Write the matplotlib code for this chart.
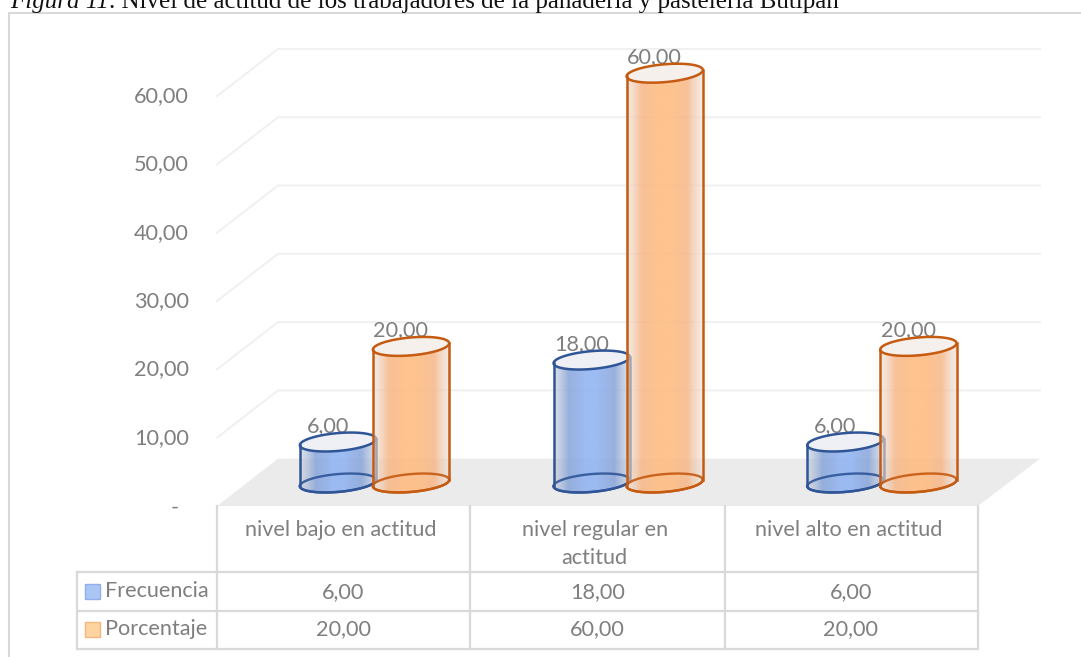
import numpy as np
import matplotlib
matplotlib.use("Agg")
import matplotlib.pyplot as plt
from matplotlib.patches import PathPatch, Polygon, Rectangle
from matplotlib.path import Path
from matplotlib.colors import to_rgb

categories = ["nivel bajo en actitud", "nivel regular en\nactitud", "nivel alto en actitud"]
frecuencia = [6.00, 18.00, 6.00]
porcentaje = [20.00, 60.00, 20.00]
y_ticks = [10, 20, 30, 40, 50, 60]

W, H = 1081, 657
PX_X = 253.7          # pixels per category
PX_Y = 6.83           # pixels per unit of value
X0_PX, Y0_PX = 343.5, 506.0   # pixel of category 0 / value 0 on the front plane

TEXT = "#7f7f7f"
LINE = "#d9d9d9"
GRID = "#f0f0f0"


def fmt(v):
    return f"{v:.2f}".replace(".", ",")


def dx(px):
    return px / PX_X


def dy(px):
    return px / PX_Y


def X(px):
    return (px - X0_PX) / PX_X


def Y(py):
    return (Y0_PX - py) / PX_Y


fig = plt.figure(figsize=(W / 100, H / 100), dpi=100)
ax = fig.add_axes([0, 0, 1, 1])
ax.set_xlim(X(0), X(W))
ax.set_ylim(Y(H), Y(0))
ax.axis("off")

font = "Lato"
fs = 15.6

# outer chart frame, open towards the right and bottom
ax.plot([X(9), X(9), X(W)], [Y(H), Y(13), Y(13)], color=LINE, lw=1.5, zorder=1,
        solid_joinstyle="miter")

# heading
head = ax.text(X(10), Y(8), "Figura 11", family="Liberation Serif", style="italic",
               fontsize=18, color="#111111", va="baseline", ha="left", zorder=6)
ax.annotate(". Nivel de actitud de los trabajadores de la panadería y pastelería Butipan",
            xy=(1, 0), xycoords=head, va="bottom", ha="left", family="Liberation Serif",
            fontsize=18, color="#111111", zorder=6, annotation_clip=False)

# back wall gridlines with their skew to the floor
DEPTH_X, DEPTH_Y = 61, 47.3
for v in y_ticks:
    ax.plot([X(217), X(217 + DEPTH_X), X(1040)],
            [v, v + dy(DEPTH_Y), v + dy(DEPTH_Y)], color=GRID, lw=1.4, zorder=1,
            solid_joinstyle="miter")
    ax.text(X(189), v, fmt(v), color=TEXT, fontsize=fs, family=font, ha="right",
            va="center", zorder=2)
ax.text(X(175), Y(508), "-", color=TEXT, fontsize=fs, family=font, ha="center", va="center")

# floor
ax.add_patch(Polygon([(X(217), 0), (X(278), dy(DEPTH_Y)), (X(1040), dy(DEPTH_Y)), (X(978), 0)],
                     closed=True, fc="#ebebeb", ec="none", zorder=1.5))

# data table below the floor
for xp in (217, 470, 724.6, 978):
    ax.plot([X(xp), X(xp)], [Y(506), Y(649)], color=LINE, lw=1.6, zorder=2)
ax.plot([X(76.5), X(76.5)], [Y(572), Y(649)], color=LINE, lw=1.6, zorder=2)
for yp in (572, 611, 649):
    ax.plot([X(76.5), X(978)], [Y(yp), Y(yp)], color=LINE, lw=1.6, zorder=2)

NAME_SHIFT = dx(-2.5)
for i, name in enumerate(categories):
    lines = name.split("\n")
    ax.text(i + NAME_SHIFT, Y(530), lines[0], color=TEXT, fontsize=fs, family=font, ha="center", va="center")
    if len(lines) > 1:
        ax.text(i + NAME_SHIFT, Y(558), lines[1], color=TEXT, fontsize=fs, family=font, ha="center", va="center")
    ax.text(i, Y(592), fmt(frecuencia[i]), color=TEXT, fontsize=fs, family=font, ha="center", va="center")
    ax.text(i, Y(629.5), fmt(porcentaje[i]), color=TEXT, fontsize=fs, family=font, ha="center", va="center")

for yp, label, fc, ec in [(591.5, "Frecuencia", "#a9c6f5", "#8fb0ea"), (629.5, "Porcentaje", "#fdd3a0", "#f7b57f")]:
    ax.add_patch(Rectangle((X(85), Y(yp + 7.5)), dx(15), dy(15), fc=fc, ec=ec, lw=1, zorder=3))
    ax.text(X(105), Y(yp - 0.5), label, color=TEXT, fontsize=fs, family=font, ha="left", va="center")

# cylinders
A, B = 38.3, 8.9
TILT = np.radians(5)
BASE = dy(23)         # floor offset of the cylinder base above the front edge
t0 = np.arctan2(-B * np.sin(TILT), A * np.cos(TILT))


def ellipse(cx, cy, t):
    ex = A * np.cos(t) * np.cos(TILT) - B * np.sin(t) * np.sin(TILT)
    ey = A * np.cos(t) * np.sin(TILT) + B * np.sin(t) * np.cos(TILT)
    return np.column_stack([cx + dx(ex), cy + dy(ey)])


def gradient(edge, shade, mid):
    """Horizontal shading across a cylinder: pale rim, a darker band, bright centre."""
    stops = np.array([0.0, 0.2, 0.42, 0.58, 0.8, 1.0])
    cols = np.array([to_rgb(c) for c in (edge, shade, mid, mid, shade, edge)])
    alphas = np.array([0.55, 0.85, 0.92, 0.92, 0.85, 0.55])
    u = np.linspace(0, 1, 256)
    rgb = np.column_stack([np.interp(u, stops, cols[:, k]) for k in range(3)])
    alpha = np.interp(u, stops, alphas)
    return np.dstack([rgb[None, :, :], alpha[None, :, None]])


def cylinder(cx, value, edge, grad, cap, z):
    cb = BASE
    ct = BASE + value
    tt = np.linspace(t0, t0 + np.pi, 60)
    top_far = ellipse(cx, ct, tt)
    bot_near = ellipse(cx, cb, tt + np.pi)
    body = np.vstack([top_far, bot_near, top_far[:1]])
    clip = PathPatch(Path(body), fc="none", ec="none", transform=ax.transData)
    ax.add_patch(clip)
    im = ax.imshow(grad, extent=(cx - dx(A), cx + dx(A), cb - dy(14), ct + dy(14)),
                   aspect="auto", interpolation="bilinear", zorder=z)
    im.set_clip_path(clip)
    all_t = np.linspace(0, 2 * np.pi, 121)
    bottom = ellipse(cx, cb, all_t)
    ax.plot(bottom[:, 0], bottom[:, 1], color=edge, lw=1.7, zorder=z + 0.1, alpha=0.9)
    top = ellipse(cx, ct, all_t)
    ax.add_patch(Polygon(top, closed=True, fc=cap, ec=edge, lw=1.8, zorder=z + 0.2))
    ax.plot(bot_near[:, 0], bot_near[:, 1], color=edge, lw=1.8, zorder=z + 0.2)
    ax.plot([top_far[0, 0], bot_near[-1, 0]], [top_far[0, 1], bot_near[-1, 1]],
            color=edge, lw=1.8, zorder=z + 0.2)
    ax.plot([top_far[-1, 0], bot_near[0, 0]], [top_far[-1, 1], bot_near[0, 1]],
            color=edge, lw=1.8, zorder=z + 0.2)


blue_grad = gradient("#c3cad8", "#86a3d8", "#94b6f2")
orange_grad = gradient("#eae0d8", "#f7b687", "#febe84")
OFF_BLUE, OFF_ORANGE = dx(-5.5), dx(67.5)

for i in range(len(categories)):
    cylinder(i + OFF_BLUE, frecuencia[i], "#2f5597", blue_grad, "#eff0f5", 4)
    cylinder(i + OFF_ORANGE, porcentaje[i], "#c55a11", orange_grad, "#f5f0ec", 5)
    ax.text(i + OFF_BLUE - dx(10), BASE + frecuencia[i] + dy(16), fmt(frecuencia[i]), color=TEXT,
            fontsize=fs, family=font, ha="center", va="center", zorder=3.5)
    ax.text(i + OFF_ORANGE - dx(10), BASE + porcentaje[i] + dy(16), fmt(porcentaje[i]), color=TEXT,
            fontsize=fs, family=font, ha="center", va="center", zorder=3.5)

ax.set_xlim(X(0), X(W))
ax.set_ylim(Y(H), Y(0))
fig.savefig("out.png", dpi=100, facecolor="white")
